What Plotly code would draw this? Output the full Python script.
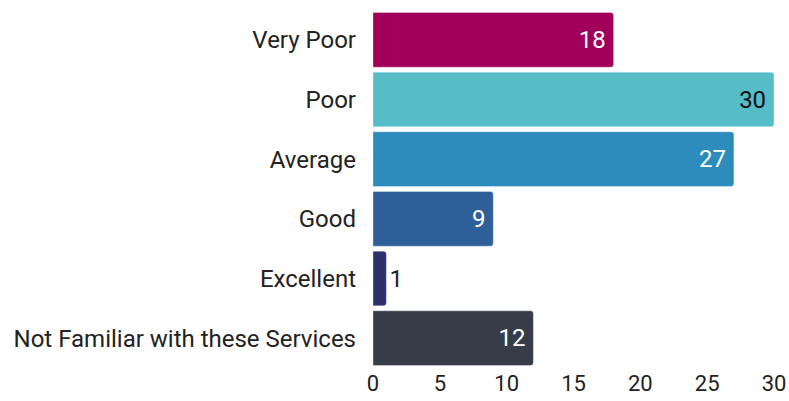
import plotly.graph_objects as go

categories = ["Very Poor", "Poor", "Average", "Good", "Excellent", "Not Familiar with these Services"]
values = [18, 30, 27, 9, 1, 12]
colors = ["#A0005A", "#56BCC8", "#2D8CBB", "#2E5F99", "#2E306B", "#373D48"]
text_colors = ["#FFFFFF", "#111111", "#FFFFFF", "#FFFFFF", "#222222", "#FFFFFF"]
text_positions = ["inside", "inside", "inside", "inside", "outside", "inside"]
tick_vals = [0, 5, 10, 15, 20, 25, 30]

FONT = "Roboto"
FS = 24
W = 400

fig = go.Figure(go.Bar(
    y=categories,
    x=values,
    orientation="h",
    marker=dict(color=colors, cornerradius=3,
                line=dict(color="rgba(255,255,255,0.35)", width=1)),
    text=[str(v) + "\u2009" for v in values],
    textposition=text_positions,
    insidetextanchor="end",
    textfont=dict(color=text_colors, size=FS, family=FONT, weight=W),
    cliponaxis=False,
    hoverinfo="skip",
))

fig.update_layout(
    width=789, height=401,
    margin=dict(l=373, r=15, t=10, b=33, autoexpand=False),
    paper_bgcolor="white", plot_bgcolor="white",
    bargap=0.083,
    showlegend=False,
    font=dict(family=FONT, size=FS, color="#222222", weight=W),
    uniformtext=dict(mode=False),
)
fig.update_xaxes(range=[0, 30], tickvals=tick_vals, showgrid=False, zeroline=False,
                 showline=False, ticks="", automargin=False, ticklabelstandoff=0,
                 tickfont=dict(size=22, color="#222222", weight=W))
fig.update_yaxes(categoryorder="array", categoryarray=categories, autorange="reversed",
                 showgrid=False, zeroline=False, showline=False, ticks="",
                 automargin=False, ticklabelstandoff=16,
                 tickfont=dict(size=FS, color="#222222", weight=W))

fig.write_html("out.html", config={"displayModeBar": False},
               post_script="document.body.style.margin='0';")
